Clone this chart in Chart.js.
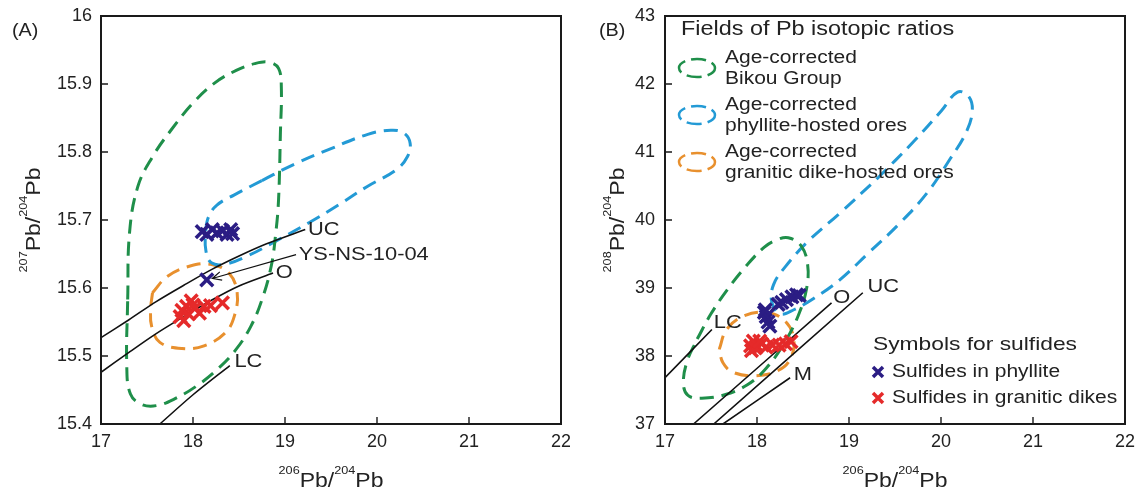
<!DOCTYPE html>
<html>
<head>
<meta charset="utf-8">
<title>Pb isotopic ratios</title>
<script src="https://cdn.jsdelivr.net/npm/chart.js@4.4.1/dist/chart.umd.min.js"></script>
<style>
    html, body { margin: 0; padding: 0; background: #fff; }
    #wrap { position: relative; width: 1141px; height: 494px; overflow: hidden; }
    canvas { position: absolute; top: 0; }
    #chartA { left: 0; }
    #chartB { left: 570px; }
</style>
</head>
<body>
<div id="wrap">
    <canvas id="chartA" width="570" height="494"></canvas>
    <canvas id="chartB" width="571" height="494"></canvas>
</div>
<script>
// ---- axes ----
var xTicks = [17, 18, 19, 20, 21, 22];
var yTicksA = [15.4, 15.5, 15.6, 15.7, 15.8, 15.9, 16];
var yTickLabelsA = ['15.4', '15.5', '15.6', '15.7', '15.8', '15.9', '16'];
var yTicksB = [37, 38, 39, 40, 41, 42, 43];
var yTickLabelsB = ['37', '38', '39', '40', '41', '42', '43'];

// ---- panel A: 207Pb/204Pb vs 206Pb/204Pb ----
var bikouA = [[17.29, 15.583], [17.31, 15.681], [17.40, 15.749], [17.56, 15.793], [17.76, 15.832],
    [18.00, 15.872], [18.23, 15.901], [18.47, 15.920], [18.67, 15.930], [18.83, 15.932],
    [18.93, 15.923], [18.96, 15.896], [18.95, 15.828], [18.93, 15.730], [18.90, 15.681],
    [18.85, 15.632], [18.75, 15.583], [18.63, 15.544], [18.47, 15.510], [18.27, 15.481],
    [18.04, 15.456], [17.80, 15.437], [17.60, 15.427], [17.44, 15.429], [17.32, 15.444],
    [17.28, 15.486], [17.29, 15.583]];
var phylliteOresA = [[18.75, 15.758], [19.10, 15.782], [19.50, 15.805], [19.90, 15.826], [20.15, 15.832],
    [20.29, 15.828], [20.36, 15.813], [20.33, 15.793], [20.21, 15.774], [19.89, 15.749],
    [19.58, 15.722], [19.26, 15.696], [18.90, 15.669], [18.59, 15.647], [18.35, 15.635],
    [18.20, 15.637], [18.14, 15.655], [18.14, 15.685], [18.17, 15.705], [18.26, 15.722],
    [18.45, 15.737], [18.75, 15.758]];
var dikeOresA = [[17.56, 15.593], [17.72, 15.617], [17.96, 15.632], [18.19, 15.635], [18.39, 15.622],
    [18.48, 15.593], [18.45, 15.559], [18.35, 15.534], [18.12, 15.515], [17.88, 15.511],
    [17.64, 15.520], [17.55, 15.544], [17.54, 15.569], [17.56, 15.593]];
var curveUCA = [[17.0, 15.527], [17.3, 15.553], [17.6, 15.580], [17.9, 15.604], [18.2, 15.627],
    [18.5, 15.647], [18.8, 15.665], [19.22, 15.686]];
var curveOA = [[17.0, 15.476], [17.3, 15.505], [17.6, 15.533], [17.9, 15.558], [18.2, 15.582],
    [18.5, 15.603], [18.87, 15.622]];
var curveLCA = [[17.64, 15.40], [18.0, 15.443], [18.40, 15.486]];
var phylliteA = [[18.10, 15.683], [18.15, 15.679], [18.21, 15.686], [18.26, 15.681], [18.32, 15.684],
    [18.37, 15.679], [18.41, 15.686], [18.43, 15.680], [18.15, 15.612]];
var dikesA = [[17.86, 15.558], [17.88, 15.567], [17.93, 15.573], [17.98, 15.581], [18.02, 15.570],
    [18.07, 15.563], [18.12, 15.573], [18.19, 15.574], [18.32, 15.578], [17.90, 15.552],
    [17.95, 15.562], [18.00, 15.575]];

// ---- panel B: 208Pb/204Pb vs 206Pb/204Pb ----
var bikouB = [[17.35, 38.25], [17.50, 38.62], [17.68, 38.98], [17.88, 39.32], [18.08, 39.60],
    [18.22, 39.71], [18.34, 39.74], [18.48, 39.62], [18.55, 39.35], [18.54, 39.00],
    [18.45, 38.60], [18.30, 38.20], [18.10, 37.82], [17.90, 37.58], [17.65, 37.43],
    [17.40, 37.38], [17.25, 37.42], [17.20, 37.60], [17.24, 37.92], [17.35, 38.25]];
var phylliteOresB = [[19.30, 40.60], [19.70, 41.15], [20.00, 41.60], [20.18, 41.88], [20.30, 41.82],
    [20.34, 41.60], [20.27, 41.28], [20.10, 40.90], [19.85, 40.40], [19.55, 39.95],
    [19.20, 39.50], [18.90, 39.12], [18.62, 38.85], [18.40, 38.68], [18.25, 38.62],
    [18.16, 38.80], [18.18, 39.05], [18.30, 39.30], [18.55, 39.68], [18.90, 40.10],
    [19.30, 40.60]];
var dikeOresB = [[17.59, 38.10], [17.67, 38.39], [17.86, 38.59], [18.10, 38.64], [18.30, 38.52],
    [18.40, 38.25], [18.36, 37.95], [18.22, 37.78], [17.98, 37.71], [17.74, 37.76],
    [17.63, 37.90], [17.59, 38.10]];
var curveLCB = [[17.0, 37.68], [17.51, 38.39]];
var curveOB = [[17.31, 37.0], [18.81, 38.78]];
var curveUCB = [[17.53, 37.0], [19.15, 38.93]];
var curveMB = [[17.63, 37.0], [18.36, 37.68]];
var phylliteB = [[18.08, 38.64], [18.10, 38.58], [18.12, 38.50], [18.14, 38.44], [18.09, 38.68],
    [18.23, 38.76], [18.27, 38.79], [18.32, 38.83], [18.38, 38.87], [18.43, 38.90], [18.46, 38.89]];
var dikesB = [[17.93, 38.15], [17.96, 38.22], [18.00, 38.15], [18.05, 38.18], [18.10, 38.13],
    [18.17, 38.16], [18.24, 38.16], [18.31, 38.18], [18.37, 38.21], [17.94, 38.08],
    [17.98, 38.12], [18.03, 38.22]];

// curve labels and the sample arrow (data coordinates)
var labelsA = [['UC', 19.25, 15.686], ['O', 18.90, 15.622], ['LC', 18.45, 15.491], ['YS-NS-10-04', 19.15, 15.649]];
var arrowA = [[19.12, 15.649], [18.21, 15.614]];
var labelsB = [['LC', 17.53, 38.49], ['O', 18.83, 38.85], ['UC', 19.20, 39.02], ['M', 18.40, 37.73]];

var FONT = '"Liberation Sans", Arial, Helvetica, sans-serif';
var INK = '#222';
var STRETCH = 1.2;
var GREEN = '#1f8f4a', BLUE = '#239ad5', ORANGE = '#e8902e';
var NAVY = '#2b1d84', RED = '#e52a2a';

function toXY(arr) {
    return arr.map(function (p) { return { x: p[0], y: p[1] }; });
}

function field(pts, color) {
    return {
        data: toXY(pts), showLine: true, pointRadius: 0, borderColor: color,
        borderWidth: 3, borderDash: [14, 8], tension: 0.4, fill: false, order: 2,
    };
}

function curve(pts) {
    return {
        data: toXY(pts), showLine: true, pointRadius: 0, borderColor: '#111',
        borderWidth: 1.6, tension: 0.3, fill: false, order: 1,
    };
}

function marks(pts, color) {
    return {
        data: toXY(pts), showLine: false, pointStyle: 'crossRot', pointRadius: 9,
        borderWidth: 3.5, borderColor: color, backgroundColor: color, order: 0,
    };
}

function text(ctx, s, x, y, size, align, stretch) {
    ctx.save();
    ctx.font = size + 'px ' + FONT;
    ctx.fillStyle = INK;
    ctx.textBaseline = 'middle';
    ctx.textAlign = 'left';
    var k = stretch || STRETCH;
    var w = ctx.measureText(s).width * k;
    var x0 = align === 'center' ? x - w / 2 : (align === 'right' ? x - w : x);
    ctx.translate(x0, y);
    ctx.scale(k, 1);
    ctx.fillText(s, 0, 0);
    ctx.restore();
}

// "206Pb/204Pb" style title with raised mass numbers
function isoTitle(ctx, a, b, cx, cy, rotate) {
    var parts = [[a, 1], ['Pb', 0], ['/', 0], [b, 1], ['Pb', 0]];
    var big = 20, small = 11, k = 1.15;
    ctx.save();
    ctx.translate(cx, cy);
    if (rotate) ctx.rotate(-Math.PI / 2);
    ctx.scale(k, 1);
    ctx.fillStyle = INK;
    ctx.textBaseline = 'alphabetic';
    ctx.textAlign = 'left';
    var total = 0;
    parts.forEach(function (p) {
        ctx.font = (p[1] ? small : big) + 'px ' + FONT;
        total += ctx.measureText(p[0]).width;
    });
    var x = -total / 2;
    parts.forEach(function (p) {
        ctx.font = (p[1] ? small : big) + 'px ' + FONT;
        ctx.fillText(p[0], x, p[1] ? -6 : 7);
        x += ctx.measureText(p[0]).width;
    });
    ctx.restore();
}

function cross(ctx, x, y, r, color) {
    ctx.save();
    ctx.strokeStyle = color;
    ctx.lineWidth = 3.5;
    ctx.beginPath();
    ctx.moveTo(x - r, y - r); ctx.lineTo(x + r, y + r);
    ctx.moveTo(x - r, y + r); ctx.lineTo(x + r, y - r);
    ctx.stroke();
    ctx.restore();
}

function dashedIcon(ctx, x, y, color) {
    ctx.save();
    ctx.strokeStyle = color;
    ctx.lineWidth = 2.5;
    ctx.setLineDash([15, 6]);
    ctx.lineDashOffset = 4;
    ctx.beginPath();
    ctx.ellipse(x, y, 18, 9, 0, 0, Math.PI * 2);
    ctx.stroke();
    ctx.restore();
}

function overlay(o) {
    return {
        id: 'overlay' + o.letter,
        afterDraw: function (chart) {
            var ctx = chart.ctx, a = chart.chartArea;
            var xs = chart.scales.x, ys = chart.scales.y;
            ctx.save();
            // frame
            ctx.strokeStyle = '#1a1a1a';
            ctx.lineWidth = 2;
            ctx.strokeRect(a.left, a.top, a.right - a.left, a.bottom - a.top);
            // inward ticks on bottom and left
            ctx.lineWidth = 1.4;
            ctx.beginPath();
            xs.ticks.forEach(function (t) {
                var px = xs.getPixelForValue(t.value);
                ctx.moveTo(px, a.bottom); ctx.lineTo(px, a.bottom - 7);
            });
            ys.ticks.forEach(function (t) {
                var py = ys.getPixelForValue(t.value);
                ctx.moveTo(a.left, py); ctx.lineTo(a.left + 7, py);
            });
            ctx.stroke();
            ctx.restore();

            // panel letter and axis titles
            text(ctx, '(' + o.letter + ')', o.letterX, 31, 18, 'left', 1.1);
            isoTitle(ctx, '206', '204', (a.left + a.right) / 2, 480, false);
            isoTitle(ctx, o.yMass, '204', o.yTitleX, (a.top + a.bottom) / 2, true);

            // curve labels
            o.labels.forEach(function (l) {
                text(ctx, l[0], xs.getPixelForValue(l[1]), ys.getPixelForValue(l[2]), 19, 'left', 1.15);
            });
            if (o.extra) o.extra(ctx, xs, ys, a);
        },
    };
}

function drawArrow(ctx, xs, ys) {
    var x1 = xs.getPixelForValue(arrowA[0][0]), y1 = ys.getPixelForValue(arrowA[0][1]);
    var x2 = xs.getPixelForValue(arrowA[1][0]), y2 = ys.getPixelForValue(arrowA[1][1]);
    var ang = Math.atan2(y2 - y1, x2 - x1);
    ctx.save();
    ctx.strokeStyle = '#111';
    ctx.lineWidth = 1.2;
    ctx.beginPath();
    ctx.moveTo(x1, y1); ctx.lineTo(x2, y2);
    ctx.moveTo(x2 - 10 * Math.cos(ang - 0.45), y2 - 10 * Math.sin(ang - 0.45));
    ctx.lineTo(x2, y2);
    ctx.lineTo(x2 - 10 * Math.cos(ang + 0.45), y2 - 10 * Math.sin(ang + 0.45));
    ctx.stroke();
    ctx.restore();
}

function drawLegendB(ctx) {
    text(ctx, 'Fields of Pb isotopic ratios', 111, 30, 19.5, 'left');
    var rows = [
        [GREEN, 'Age-corrected', 'Bikou Group', 58],
        [BLUE, 'Age-corrected', 'phyllite-hosted ores', 105],
        [ORANGE, 'Age-corrected', 'granitic dike-hosted ores', 152],
    ];
    rows.forEach(function (r) {
        dashedIcon(ctx, 127, r[3] + 10, r[0]);
        text(ctx, r[1], 155, r[3], 17.5, 'left');
        text(ctx, r[2], 155, r[3] + 21, 17.5, 'left');
    });
    text(ctx, 'Symbols for sulfides', 303, 345, 19, 'left');
    cross(ctx, 308, 372, 5, NAVY);
    text(ctx, 'Sulfides in phyllite', 322, 372, 17.5, 'left');
    cross(ctx, 308, 398, 5, RED);
    text(ctx, 'Sulfides in granitic dikes', 322, 398, 17.5, 'left');
}

function makePanel(id, o) {
    var tickFont = { size: 18, family: FONT };
    return new Chart(document.getElementById(id), {
        type: 'scatter',
        data: { datasets: o.datasets },
        options: {
            responsive: false,
            animation: false,
            devicePixelRatio: 1,
            layout: { autoPadding: false, padding: { left: 0, top: 16, right: o.padRight, bottom: 0 } },
            plugins: { legend: { display: false }, tooltip: { enabled: false } },
            scales: {
                x: {
                    type: 'linear', min: 17, max: 22,
                    grid: { display: false, drawTicks: false },
                    border: { display: false },
                    afterBuildTicks: function (s) { s.ticks = xTicks.map(function (v) { return { value: v }; }); },
                    ticks: { font: tickFont, color: INK, padding: 7, maxRotation: 0, callback: function (v) { return String(v); } },
                    afterFit: function (s) { s.height = 70; s.paddingLeft = 0; s.paddingRight = 0; },
                },
                y: {
                    type: 'linear', min: o.yTicks[0], max: o.yTicks[o.yTicks.length - 1],
                    grid: { display: false, drawTicks: false },
                    border: { display: false },
                    afterBuildTicks: function (s) { s.ticks = o.yTicks.map(function (v) { return { value: v }; }); },
                    ticks: {
                        font: tickFont, color: INK, padding: o.yPad,
                        callback: function (v) { return o.yLabels[o.yTicks.indexOf(v)]; },
                    },
                    afterFit: function (s) { s.width = o.axisWidth; s.paddingTop = 0; s.paddingBottom = 0; },
                },
            },
        },
        plugins: [overlay(o)],
    });
}

makePanel('chartA', {
    letter: 'A', letterX: 12, yMass: '207', yTitleX: 33,
    axisWidth: 101, padRight: 9, yPad: 9,
    yTicks: yTicksA, yLabels: yTickLabelsA, labels: labelsA,
    extra: drawArrow,
    datasets: [
        field(bikouA, GREEN), field(phylliteOresA, BLUE), field(dikeOresA, ORANGE),
        curve(curveUCA), curve(curveOA), curve(curveLCA),
        marks(phylliteA, NAVY), marks(dikesA, RED),
    ],
});

makePanel('chartB', {
    letter: 'B', letterX: 29, yMass: '208', yTitleX: 47,
    axisWidth: 95, padRight: 16, yPad: 10,
    yTicks: yTicksB, yLabels: yTickLabelsB, labels: labelsB,
    extra: function (ctx) { drawLegendB(ctx); },
    datasets: [
        field(bikouB, GREEN), field(phylliteOresB, BLUE), field(dikeOresB, ORANGE),
        curve(curveLCB), curve(curveOB), curve(curveUCB), curve(curveMB),
        marks(phylliteB, NAVY), marks(dikesB, RED),
    ],
});
</script>
</body>
</html>
